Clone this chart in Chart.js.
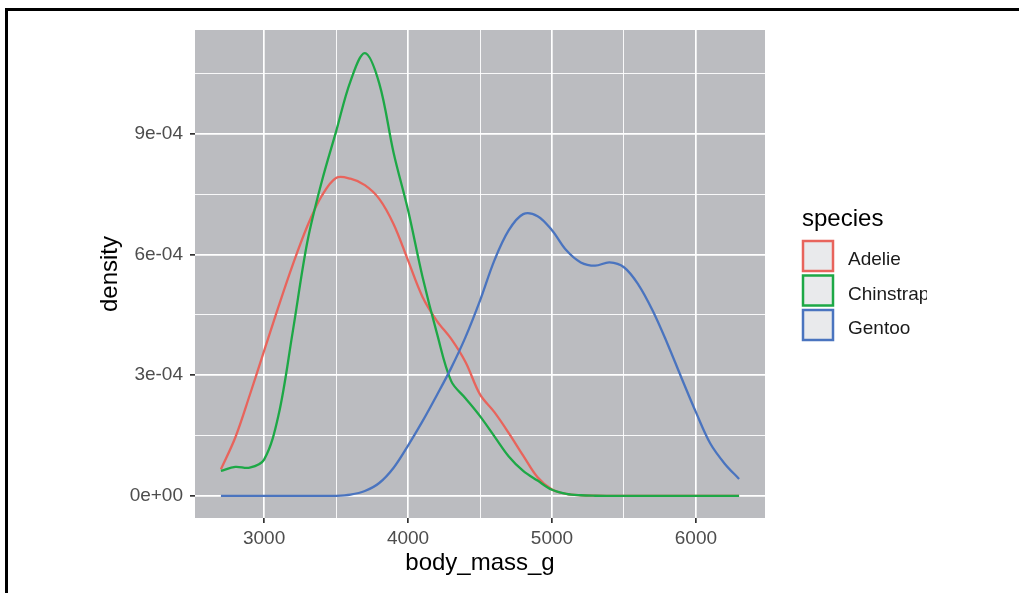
<!DOCTYPE html>
<html><head><meta charset="utf-8">
<script src="https://cdn.jsdelivr.net/npm/chart.js@4/dist/chart.umd.min.js"></script>
<style>html,body{margin:0;padding:0;background:#fff;overflow:hidden}#wrap{position:relative;width:1019px;height:593px}</style>
</head><body><div id="wrap"><canvas id="c" width="1019" height="593"></canvas></div>
<script>
const bodyMass = [2700,2800,2900,3000,3100,3200,3300,3400,3500,3600,3700,3800,3900,4000,4100,4200,4300,4400,4500,4600,4700,4800,4900,5000,5100,5200,5300,5400,5500,5600,5700,5800,5900,6000,6100,6200,6300];
const adelie = [6.6e-5,1.45e-4,2.50e-4,3.60e-4,4.70e-4,5.75e-4,6.70e-4,7.45e-4,7.90e-4,7.88e-4,7.72e-4,7.38e-4,6.75e-4,5.85e-4,4.95e-4,4.35e-4,3.90e-4,3.32e-4,2.52e-4,2.08e-4,1.56e-4,1.00e-4,4.6e-5,1.6e-5,5e-6,1.5e-6,4e-7,0,0,0,0,0,0,0,0,0,0];
const chinstrap = [6.2e-5,7.2e-5,7.0e-5,9.0e-5,2.00e-4,4.10e-4,6.30e-4,7.80e-4,9.05e-4,1.030e-3,1.100e-3,1.025e-3,8.52e-4,7.10e-4,5.45e-4,4.05e-4,2.85e-4,2.42e-4,1.98e-4,1.48e-4,9.8e-5,6.2e-5,3.8e-5,1.5e-5,5e-6,1.5e-6,3e-7,0,0,0,0,0,0,0,0,0,0];
const gentoo = [0,0,0,0,0,0,0,0,0,3e-6,1.2e-5,3.2e-5,7.0e-5,1.25e-4,1.85e-4,2.50e-4,3.18e-4,3.95e-4,4.85e-4,5.85e-4,6.60e-4,7.00e-4,6.95e-4,6.60e-4,6.10e-4,5.80e-4,5.72e-4,5.80e-4,5.68e-4,5.25e-4,4.60e-4,3.80e-4,2.93e-4,2.08e-4,1.30e-4,8.0e-5,4.2e-5];
const seriesNames = ['Adelie','Chinstrap','Gentoo'];
const seriesColors = ['#E8645C','#1DA846','#4A74BF'];
const xTicks = [3000,4000,5000,6000];
const xMinorTicks = [3500,4500,5500];
const yTicks = [0,3e-4,6e-4,9e-4];
const yTickLabels = ['0e+00','3e-04','6e-04','9e-04'];
const yMinorTicks = [1.5e-4,4.5e-4,7.5e-4,1.05e-3];
const xTitle = 'body_mass_g';
const yTitle = 'density';
const legendTitle = 'species';

const FONT = '"Liberation Sans", Arial, Helvetica, sans-serif';
const isIn = (arr, v) => arr.some(t => Math.abs(t - v) < 1e-10);

const seriesData = [adelie, chinstrap, gentoo];
const datasets = seriesNames.map((name, k) => ({
  label: name,
  data: bodyMass.map((x, i) => ({x: x, y: seriesData[k][i]})),
  borderColor: seriesColors[k],
  backgroundColor: seriesColors[k],
  borderWidth: 2.3,
  pointRadius: 0,
  fill: false,
  tension: 0.35,
  order: 3 - k
}));

const bgPlugin = {
  id: 'bg',
  beforeDraw(chart) {
    const {ctx, chartArea: a} = chart;
    ctx.save();
    ctx.fillStyle = '#ffffff';
    ctx.fillRect(0, 0, chart.width, chart.height);
    ctx.fillStyle = '#BBBCC0';
    ctx.fillRect(a.left, a.top, a.right - a.left, a.bottom - a.top);
    ctx.restore();
  },
  afterDraw(chart) {
    const ctx = chart.ctx;
    ctx.save();
    ctx.fillStyle = '#000';
    ctx.fillRect(5, 8, 1014, 3);
    ctx.fillRect(5, 8, 3, 585);
    ctx.fillStyle = '#000';
    ctx.font = '24px ' + FONT;
    ctx.textAlign = 'left';
    ctx.textBaseline = 'alphabetic';
    ctx.fillText(legendTitle, 802, 226);
    const top0 = 241, step = 34.5, size = 30;
    seriesNames.forEach((name, k) => {
      const y = top0 + k * step;
      ctx.fillStyle = '#E9EAEC';
      ctx.fillRect(803, y, size, size);
      ctx.strokeStyle = seriesColors[k];
      ctx.lineWidth = 2.5;
      ctx.strokeRect(803, y, size, size);
    });
    ctx.save();
    ctx.beginPath();
    ctx.rect(840, 230, 87, 130);
    ctx.clip();
    ctx.fillStyle = '#1a1a1a';
    ctx.font = '19px ' + FONT;
    seriesNames.forEach((name, k) => {
      ctx.fillText(name, 848, 265 + k * 34.5);
    });
    ctx.restore();
    ctx.restore();
  }
};

new Chart(document.getElementById('c'), {
  type: 'line',
  data: {datasets},
  options: {
    responsive: false,
    animation: false,
    events: [],
    layout: {padding: {left: 0, top: 30, right: 254, bottom: 0}},
    plugins: {legend: {display: false}, tooltip: {enabled: false}},
    scales: {
      x: {
        type: 'linear',
        min: 2520, max: 6480,
        afterBuildTicks: s => { s.ticks = [...xTicks, ...xMinorTicks].sort((a,b)=>a-b).map(v => ({value: v})); },
        afterFit: s => { s.height = 75; },
        border: {display: false},
        grid: {
          color: '#ffffff',
          lineWidth: c => isIn(xTicks, c.tick.value) ? 1.7 : 0.9,
          tickColor: c => isIn(xTicks, c.tick.value) ? '#333333' : 'rgba(0,0,0,0)',
          tickLength: 5
        },
        ticks: {
          autoSkip: false, maxRotation: 0, padding: 4,
          color: '#4D4D4D',
          font: {family: FONT, size: 19},
          callback: v => isIn(xTicks, v) ? String(v) : ''
        },
        title: {display: true, text: xTitle, color: '#000', font: {family: FONT, size: 24}, padding: {top: 0, bottom: 15}}
      },
      y: {
        type: 'linear',
        min: -5.5e-5, max: 1.1575e-3,
        afterBuildTicks: s => { s.ticks = [...yTicks, ...yMinorTicks].sort((a,b)=>a-b).map(v => ({value: v})); },
        afterFit: s => { s.width = 195; },
        border: {display: false},
        grid: {
          color: '#ffffff',
          lineWidth: c => isIn(yTicks, c.tick.value) ? 1.7 : 0.9,
          tickColor: c => isIn(yTicks, c.tick.value) ? '#333333' : 'rgba(0,0,0,0)',
          tickLength: 5
        },
        ticks: {
          autoSkip: false, padding: 7,
          color: '#4D4D4D',
          font: {family: FONT, size: 19},
          callback: v => { const i = yTicks.findIndex(t => Math.abs(t - v) < 1e-10); return i >= 0 ? yTickLabels[i] : ''; }
        },
        title: {display: true, text: yTitle, color: '#000', font: {family: FONT, size: 24}, padding: {top: 96, bottom: 0}}
      }
    }
  },
  plugins: [bgPlugin]
});
</script>
</body></html>
